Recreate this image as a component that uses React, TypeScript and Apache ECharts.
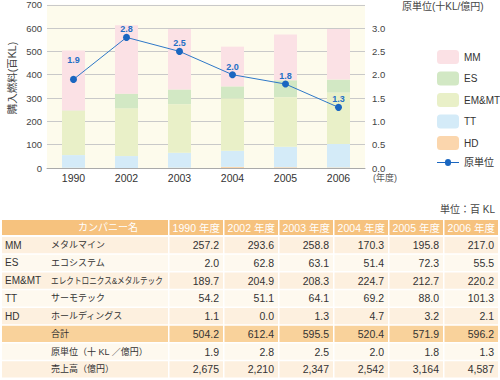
import React, { useEffect, useRef } from "react";
import * as echarts from "echarts";

const years = ["1990", "2002", "2003", "2004", "2005", "2006"];
const mm = [257.2, 293.6, 258.8, 170.3, 195.8, 217.0];
const es = [2.0, 62.8, 63.1, 51.4, 72.3, 55.5];
const emmt = [189.7, 204.9, 208.3, 224.7, 212.7, 220.2];
const tt = [54.2, 51.1, 64.1, 69.2, 88.0, 101.3];
const hd = [1.1, 0.0, 1.3, 4.7, 3.2, 2.1];
const totals = [504.2, 612.4, 595.5, 520.4, 571.9, 596.2];
const intensity = [1.9, 2.8, 2.5, 2.0, 1.8, 1.3];
const sales = [2675, 2210, 2347, 2542, 3164, 4587];

const FONT = '"Liberation Sans", "Noto Sans CJK JP", sans-serif';

const colors = {
  MM: "#fbe1e5",
  ES: "#d2e8c4",
  EMMT: "#e9f0c8",
  TT: "#d4ebf8",
  HD: "#fbd6ad",
  line: "#2e78c8",
  dot: "#1a66c0",
};

function fmt1(v: number) {
  return v.toFixed(1);
}
function fmtK(v: number) {
  return v.toLocaleString("en-US");
}

export default function App() {
  const ref = useRef<HTMLDivElement>(null);
  useEffect(() => {
    if (!ref.current) return;
    const chart = echarts.init(ref.current, null, { renderer: "svg" });

    const rows = [
      { abbr: "MM", name: "メタルマイン", vals: mm.map(fmt1), bg: "#fdf0df" },
      { abbr: "ES", name: "エコシステム", vals: es.map(fmt1), bg: "#fef9ef" },
      { abbr: "EM&MT", name: "エレクトロニクス&メタルテック", vals: emmt.map(fmt1), bg: "#fdf0df", sx: 0.85 },
      { abbr: "TT", name: "サーモテック", vals: tt.map(fmt1), bg: "#fef9ef" },
      { abbr: "HD", name: "ホールディングス", vals: hd.map(fmt1), bg: "#fdf0df" },
      { abbr: "", name: "合計", vals: totals.map(fmt1), bg: "#f9d29b" },
      { abbr: "", name: "原単位（十 KL ／億円）", vals: intensity.map(fmt1), bg: "#fef9ef" },
      { abbr: "", name: "売上高（億円）", vals: sales.map(fmtK), bg: "#fdf0df" },
    ];

    const graphic: any[] = [];
    graphic.push({
      type: "text",
      x: 12,
      y: 78,
      rotation: Math.PI / 2,
      style: { text: "購入燃料(百KL)", fontSize: 10.5, fontFamily: FONT, fill: "#444", align: "center", verticalAlign: "middle" },
    });
    graphic.push({
      type: "text",
      x: 402,
      y: 6,
      style: { text: "原単位(十KL/億円)", fontSize: 10, fontFamily: FONT, fill: "#444", align: "left", verticalAlign: "middle" },
    });
    graphic.push({
      type: "text",
      x: 373,
      y: 178,
      style: { text: "(年度)", fontSize: 9, fontFamily: FONT, fill: "#555", align: "left", verticalAlign: "middle" },
    });

    const tLeft = 2;
    const firstW = 166;
    const colX0 = 169.5;
    const colPitch = 55;
    const colW = 53.5;
    const headTop = 220;
    const headH = 15;
    const rowTop0 = 237;
    const rowPitch = 17.75;
    const rowH = 16.3;

    graphic.push({
      type: "text",
      x: 495,
      y: 209,
      style: { text: "単位：百 KL", fontSize: 10, fontFamily: FONT, fill: "#444", align: "right", verticalAlign: "middle" },
    });
    graphic.push({ type: "rect", shape: { x: tLeft, y: headTop, width: firstW, height: headH }, style: { fill: "#f6c27e" } });
    graphic.push({
      type: "text",
      x: 108,
      y: headTop + headH / 2,
      style: { text: "カンパニー名", fontSize: 10, fontFamily: FONT, fill: "#fff", align: "center", verticalAlign: "middle" },
    });
    years.forEach((y, j) => {
      const x = colX0 + j * colPitch;
      graphic.push({ type: "rect", shape: { x, y: headTop, width: colW, height: headH }, style: { fill: "#f6c27e" } });
      graphic.push({
        type: "text",
        x: x + colW / 2,
        y: headTop + headH / 2,
        style: { text: y + " 年度", fontSize: 10.5, fontFamily: FONT, fill: "#fff", align: "center", verticalAlign: "middle" },
      });
    });
    rows.forEach((r, i) => {
      const top = rowTop0 + i * rowPitch;
      const cy = top + rowH / 2;
      graphic.push({ type: "rect", shape: { x: tLeft, y: top, width: firstW, height: rowH }, style: { fill: r.bg } });
      if (r.abbr)
        graphic.push({
          type: "text",
          x: 5,
          y: cy,
          style: { text: r.abbr, fontSize: 10, fontFamily: FONT, fill: "#333", align: "left", verticalAlign: "middle" },
        });
      graphic.push({
        type: "text",
        x: 51,
        y: cy,
        scaleX: (r as any).sx || 1,
        style: { text: r.name, fontSize: 9, fontFamily: FONT, fill: "#333", align: "left", verticalAlign: "middle" },
      });
      r.vals.forEach((v, j) => {
        const x = colX0 + j * colPitch;
        graphic.push({ type: "rect", shape: { x, y: top, width: colW, height: rowH }, style: { fill: r.bg } });
        graphic.push({
          type: "text",
          x: x + colW - 4,
          y: cy,
          style: { text: v, fontSize: 10.5, fontFamily: FONT, fill: "#333", align: "right", verticalAlign: "middle" },
        });
      });
    });

    const barSeries = (name: string, data: number[], color: string) => ({
      name,
      type: "bar",
      stack: "fuel",
      barWidth: 23,
      data,
      itemStyle: { color },
      emphasis: { disabled: true },
    });

    const lineIcon = "path://M0,2.5 L8,2.5 A3,3 0 0 1 14,2.5 L22,2.5 L22,3.5 L14,3.5 A3,3 0 0 1 8,3.5 L0,3.5 Z";

    chart.setOption({
      animation: false,
      backgroundColor: "#ffffff",
      textStyle: { fontFamily: FONT },
      grid: {
        left: 47,
        right: 135,
        top: 4,
        bottom: 212,
        show: true,
        backgroundColor: "#fdfbec",
        borderWidth: 0,
      },
      legend: {
        orient: "vertical",
        left: 437,
        top: 50,
        padding: 0,
        itemWidth: 22,
        itemHeight: 14,
        itemGap: 7.5,
        textStyle: { fontSize: 10, color: "#333", fontFamily: FONT, overflow: "none" },
        data: [
          "MM",
          "ES",
          "EM&MT",
          "TT",
          "HD",
          { name: "原単位", icon: lineIcon, itemStyle: { color: colors.dot } },
        ],
      },
      xAxis: {
        type: "category",
        data: years,
        axisTick: { show: false },
        axisLine: { lineStyle: { color: "#aaa" } },
        axisLabel: { fontSize: 10.5, color: "#333", margin: 5 },
      },
      yAxis: [
        {
          type: "value",
          min: 0,
          max: 700,
          interval: 100,
          axisLine: { show: false },
          axisTick: { show: false },
          axisLabel: { fontSize: 9.5, color: "#444", margin: 5 },
          splitLine: { lineStyle: { color: "#c9c9c9", width: 1 } },
        },
        {
          type: "value",
          min: 0,
          max: 3.5,
          interval: 0.5,
          position: "right",
          axisLine: { show: false },
          axisTick: { show: false },
          splitLine: { show: false },
          axisLabel: {
            fontSize: 9.5,
            color: "#444",
            margin: 7,
            formatter: (v: number) => (v >= 3.5 ? "" : v.toFixed(1)),
          },
        },
      ],
      series: [
        barSeries("HD", hd, colors.HD),
        barSeries("TT", tt, colors.TT),
        barSeries("EM&MT", emmt, colors.EMMT),
        barSeries("ES", es, colors.ES),
        barSeries("MM", mm, colors.MM),
        {
          name: "原単位",
          type: "line",
          yAxisIndex: 1,
          z: 5,
          symbol: "circle",
          symbolSize: 7,
          data: intensity.map((v, i) => (i === 0 ? { value: v, label: { offset: [0, -11] } } : v)),
          lineStyle: { color: colors.line, width: 1 },
          itemStyle: { color: colors.dot },
          label: {
            show: true,
            position: "top",
            distance: 0,
            fontSize: 9,
            fontWeight: "bold",
            color: "#1f6fc5",
            formatter: (p: any) => Number(p.value).toFixed(1),
          },
          emphasis: { disabled: true },
        },
      ],
      graphic,
    });

    return () => chart.dispose();
  }, []);

  return (
    <div
      ref={ref}
      style={{ position: "absolute", left: 0, top: 0, width: 500, height: 380, background: "#fff" }}
    />
  );
}
